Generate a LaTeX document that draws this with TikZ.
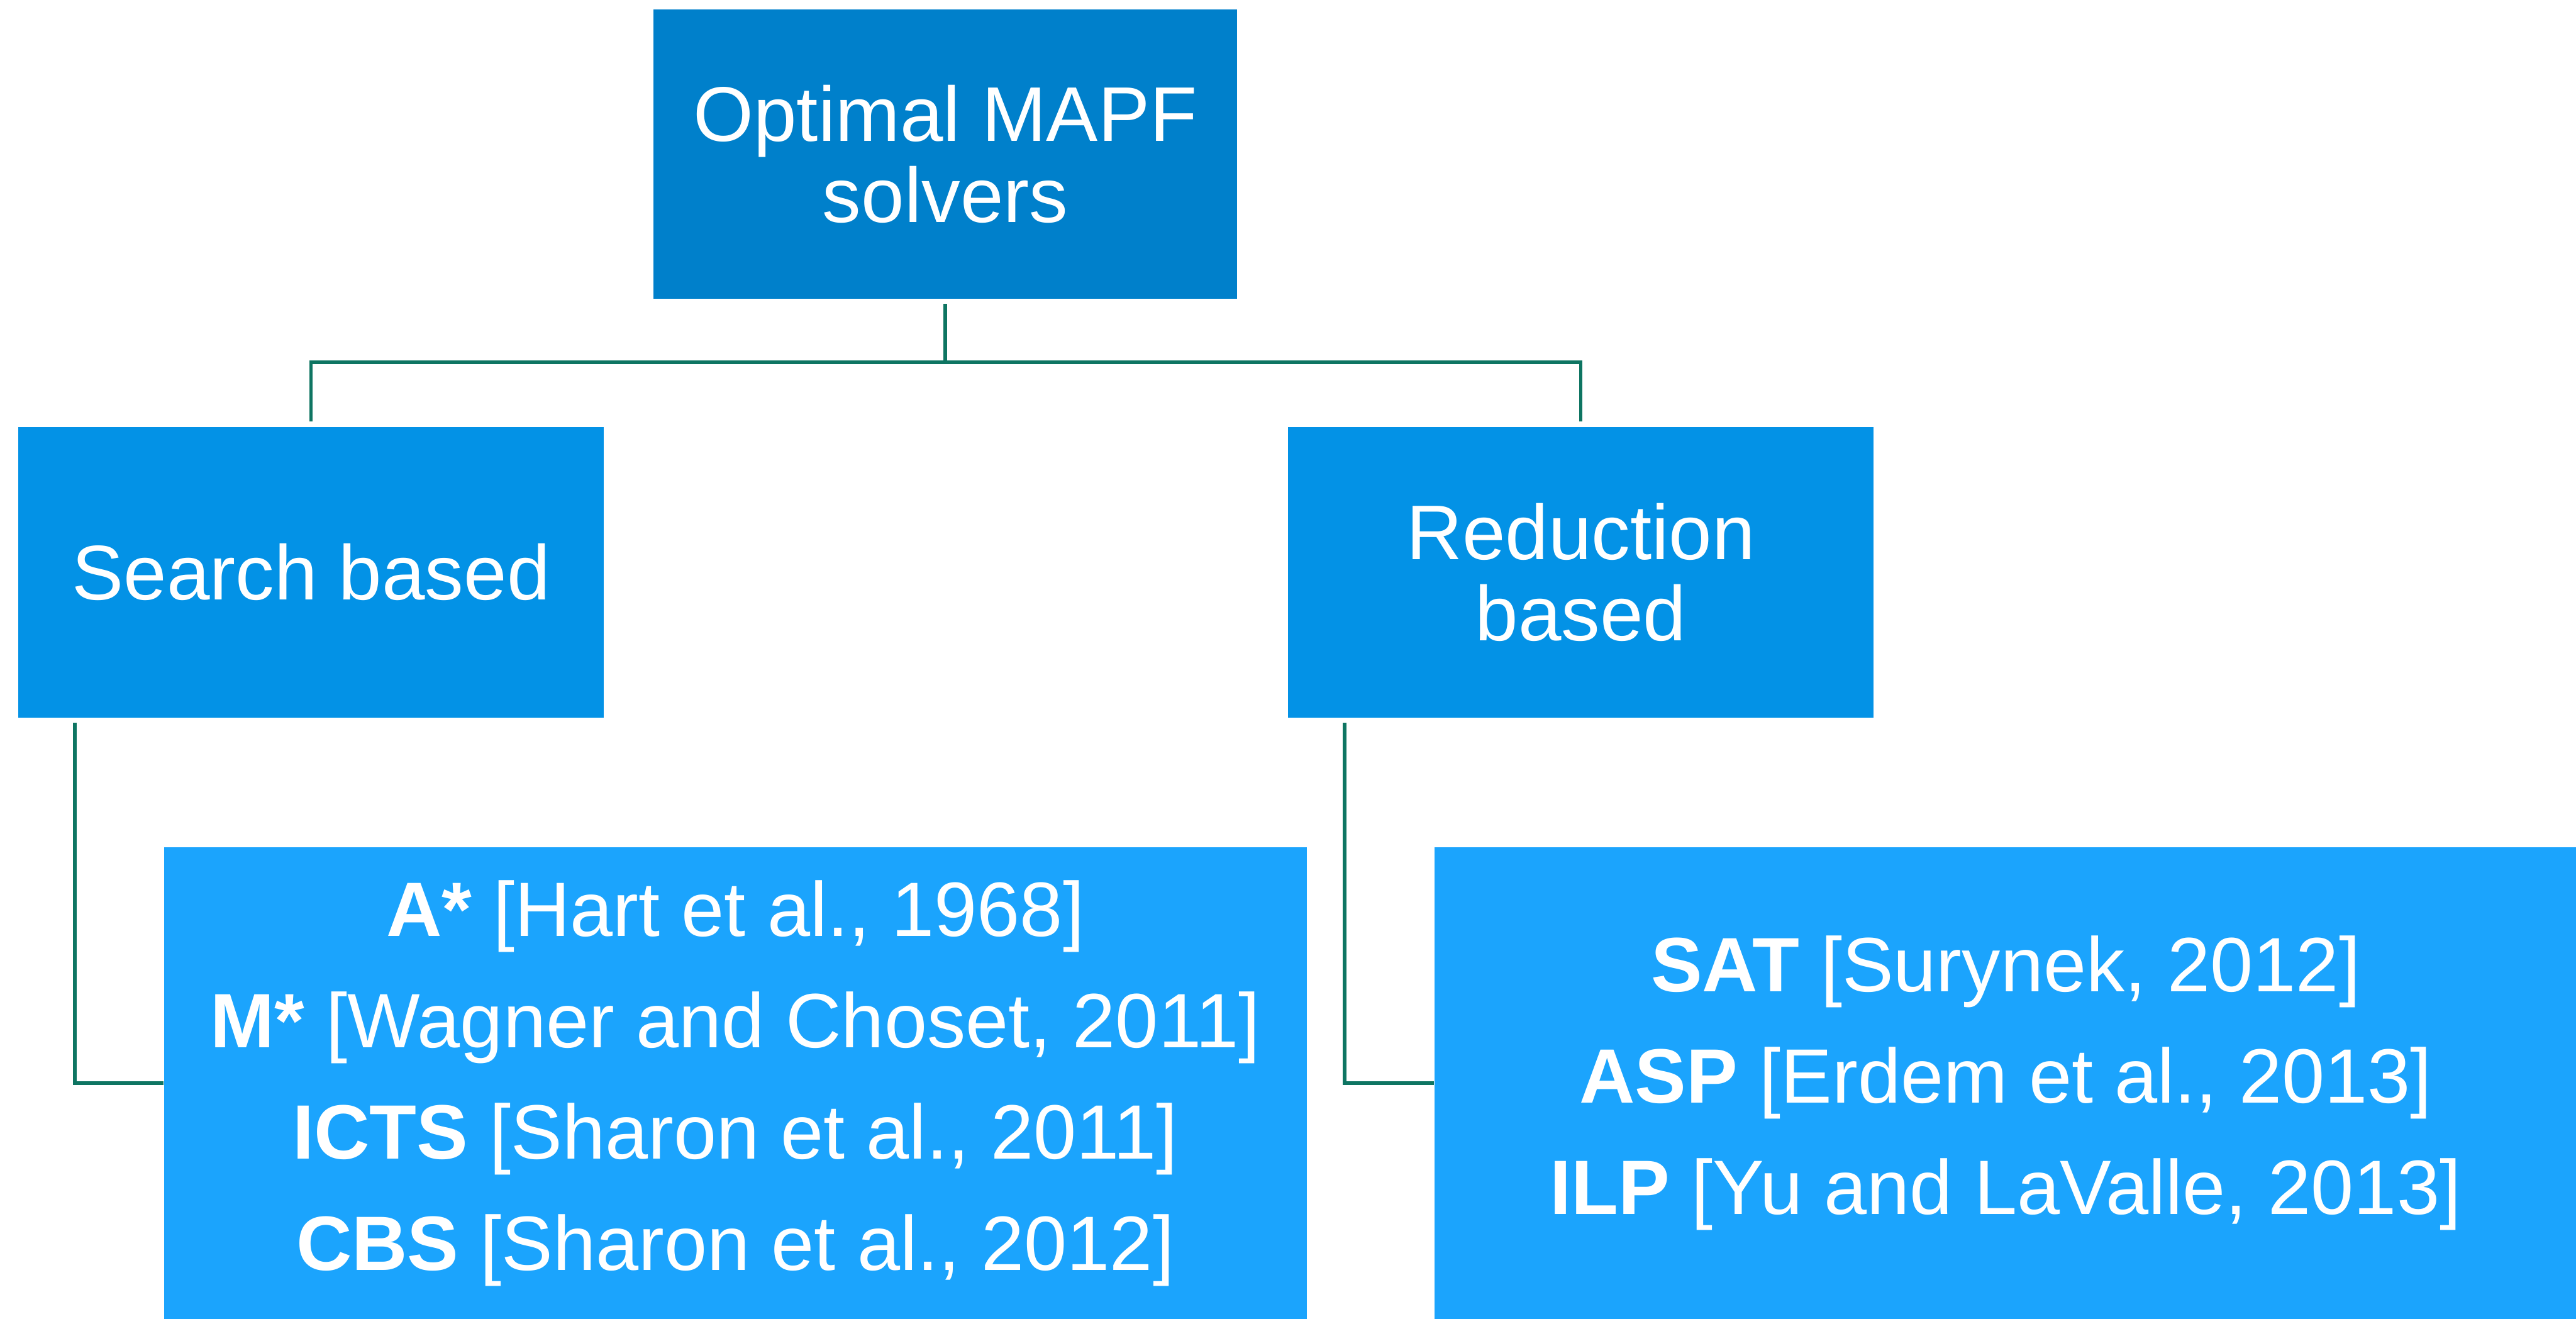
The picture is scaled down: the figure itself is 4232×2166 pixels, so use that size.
\documentclass[tikz,border=0pt]{standalone}
\usepackage{fontspec}
\setmainfont{Liberation Sans}
\usepackage{tikz}
\definecolor{rootblue}{HTML}{0080CB}
\definecolor{midblue}{HTML}{0392E6}
\definecolor{leafblue}{HTML}{1BA4FD}
\definecolor{treeline}{HTML}{0E7562}
\tikzset{
  box/.style={fill=#1, draw=none, text=white, align=center, inner sep=0pt},
  branch/.style={draw=treeline, line width=1.7pt},
  bigtext/.style={font=\fontsize{36.2}{38}\selectfont},
  listtext/.style={font=\fontsize{36}{52}\selectfont},
}

\begin{document}
\begin{tikzpicture}[x=0.01cm,y=-0.01cm]
  \useasboundingbox (0,0) rectangle (4232,2166);

  % boxes
  \node[box=rootblue, bigtext, minimum width=9.58cm, minimum height=4.75cm] (root) at (1553,253) {Optimal MAPF\\solvers};
  \node[box=midblue, bigtext, minimum width=9.62cm, minimum height=4.77cm] (search) at (511,940) {Search based};
  \node[box=midblue, bigtext, minimum width=9.62cm, minimum height=4.77cm] (reduction) at (2597,940) {Reduction\\based};
  \node[box=leafblue, listtext, minimum width=18.76cm, minimum height=7.74cm] (searchlist) at (1208,1779)
    {\textbf{A*} [Hart et al., 1968]\\\textbf{M*} [Wagner and Choset, 2011]\\\textbf{ICTS} [Sharon et al., 2011]\\\textbf{CBS} [Sharon et al., 2012]};
  \node[box=leafblue, listtext, minimum width=18.76cm, minimum height=7.74cm] (reductionlist) at (3295,1779)
    {\textbf{SAT} [Surynek, 2012]\\\textbf{ASP} [Erdem et al., 2013]\\\textbf{ILP} [Yu and LaValle, 2013]};

  % tree lines
  \coordinate (fork) at (1553,595);
  \draw[branch, shorten <=0.08cm] (root.south) -- (fork);
  \draw[branch, shorten >=0.08cm] (fork) -| (search.north);
  \draw[branch, shorten >=0.08cm] (fork) -| (reduction.north);
  \draw[branch] ([xshift=0.94cm,yshift=-0.08cm]search.south west) |- (searchlist.west);
  \draw[branch] ([xshift=0.94cm,yshift=-0.08cm]reduction.south west) |- (reductionlist.west);
\end{tikzpicture}
\end{document}
